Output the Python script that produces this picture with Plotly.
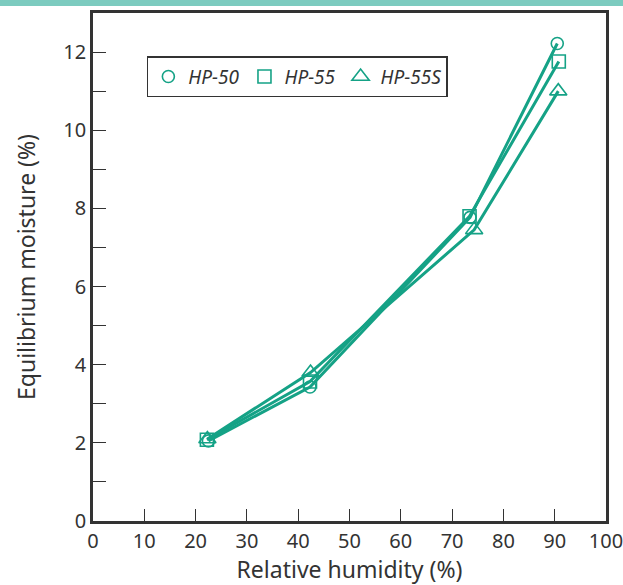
import plotly.graph_objects as go

humidity_50 = [22.5, 42.3, 73.5, 90.5]
moisture_50 = [2.05, 3.43, 7.77, 12.22]
humidity_55 = [22.2, 42.3, 73.4, 90.8]
moisture_55 = [2.08, 3.57, 7.8, 11.76]
humidity_55s = [22.3, 42.4, 74.3, 90.7]
moisture_55s = [2.1, 3.8, 7.45, 11.0]

series_names = ["HP-50", "HP-55", "HP-55S"]
x_ticks = [0, 10, 20, 30, 40, 50, 60, 70, 80, 90, 100]
y_ticks = list(range(0, 13))
y_labels = [str(v) if v % 2 == 0 else "" for v in y_ticks]

teal = "#15a286"
dark = "#333333"

fig = go.Figure()
data = [(humidity_50, moisture_50, "circle-open", 12),
        (humidity_55, moisture_55, "square-open", 13),
        (humidity_55s, moisture_55s, "triangle-up-open", 15)]
for (xs, ys, sym, sz), name in zip(data, series_names):
    fig.add_trace(go.Scatter(x=xs, y=ys, mode="lines", line=dict(color=teal, width=3),
                             showlegend=False, hoverinfo="skip"))
for (xs, ys, sym, sz), name in zip(data, series_names):
    fig.add_trace(go.Scatter(x=xs, y=ys, mode="markers", name=name,
                             marker=dict(symbol=sym, size=sz, color=teal,
                                         line=dict(color=teal, width=1.6))))

fig.add_shape(type="rect", xref="paper", yref="paper", x0=-1, x1=2,
              y0=1 + 7 / 508, y1=1 + 14 / 508, fillcolor="#7ccbbf", line_width=0, layer="above")

fig.update_layout(
    width=623, height=585,
    margin=dict(l=93, r=17, t=13, b=64),
    paper_bgcolor="white", plot_bgcolor="white",
    font=dict(family="Noto Sans, sans-serif", color=dark, size=20),
    legend=dict(orientation="h", x=0.105, y=0.915, xanchor="left", yanchor="top",
                bordercolor=dark, borderwidth=1.5, bgcolor="white",
                font=dict(size=19, style="italic", color=dark),
                itemwidth=30, tracegroupgap=0),
    xaxis=dict(range=[0, 100], tickvals=x_ticks, ticks="inside", ticklen=12, tickwidth=1.2,
               tickcolor=dark, showline=True, linecolor=dark, linewidth=2.5, mirror=True,
               showgrid=False, zeroline=False, automargin=False, ticklabeloverflow="allow",
               title=dict(text="Relative humidity (%)", font=dict(size=23), standoff=6)),
    yaxis=dict(range=[0, 13], tickvals=y_ticks, ticktext=y_labels, ticks="inside", ticklen=13,
               tickwidth=1.2, tickcolor=dark, showline=True, linecolor=dark, linewidth=2.5,
               mirror=True, showgrid=False, zeroline=False, automargin=False,
               ticklabeloverflow="allow",
               title=dict(text="Equilibrium moisture (%)", font=dict(size=23), standoff=22)),
)

fig.write_html("out.html", config={"displayModeBar": False},
               post_script="document.body.style.margin='0';document.body.style.padding='0';")
